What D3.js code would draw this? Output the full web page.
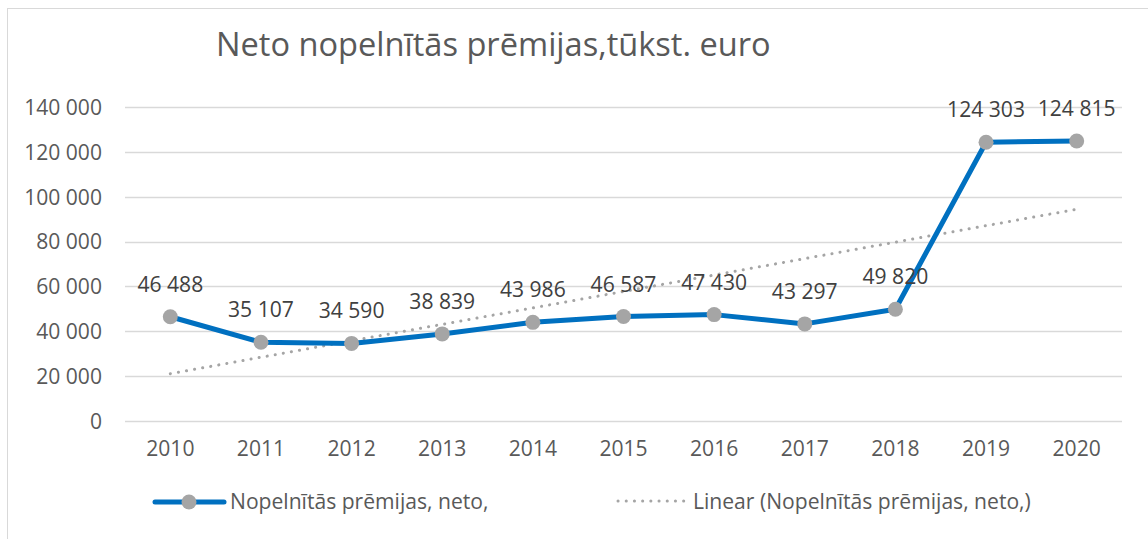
<!DOCTYPE html>
<html>
<head>
<meta charset="utf-8">
<script src="https://cdn.jsdelivr.net/npm/d3@7"></script>
<style>
  html, body { margin: 0; padding: 0; background: #fff; }
  svg { display: block; font-family: "Open Sans", "Liberation Sans", sans-serif; }
</style>
</head>
<body>
<svg id="chart" width="1148" height="539"></svg>
<script>
const years = ["2010","2011","2012","2013","2014","2015","2016","2017","2018","2019","2020"];
const values = [46488, 35107, 34590, 38839, 43986, 46587, 47430, 43297, 49820, 124303, 124815];
const yTicks = [0, 20000, 40000, 60000, 80000, 100000, 120000, 140000];
const titleText = "Neto nopelnītās prēmijas,tūkst. euro";
const seriesName = "Nopelnītās prēmijas, neto,";
const trendName = "Linear (Nopelnītās prēmijas, neto,)";

const svg = d3.select("#chart");
const W = 1148, H = 539;
const plot = { left: 125, right: 1122, top: 107, bottom: 421 };
const FS = 21.1;

// chart area border
svg.append("rect").attr("x", 7.5).attr("y", 8.5).attr("width", W + 10).attr("height", H + 10)
  .attr("fill", "#fff").attr("stroke", "#d9d9d9").attr("stroke-width", 1);

const x = d3.scaleBand().domain(years).range([plot.left, plot.right]).padding(0);
const y = d3.scaleLinear().domain([0, 140000]).range([plot.bottom, plot.top]);
const fmt = v => d3.format(",")(v).replace(/,/g, " ");
const cx = d => x(d) + x.bandwidth() / 2;

// gridlines
svg.append("g").selectAll("line").data(yTicks).join("line")
  .attr("x1", plot.left).attr("x2", plot.right)
  .attr("y1", d => Math.round(y(d)) + 0.5).attr("y2", d => Math.round(y(d)) + 0.5)
  .attr("stroke", "#d9d9d9").attr("stroke-width", 1.5);

// y axis labels
const yAxis = d3.axisLeft(y).tickValues(yTicks).tickFormat(fmt).tickSize(0).tickPadding(0);
const gy = svg.append("g").attr("transform", `translate(102,0)`).call(yAxis);
gy.select(".domain").remove();
gy.selectAll("text").attr("font-size", FS).attr("fill", "#595959")
  .attr("font-family", '"Open Sans", sans-serif').attr("dy", "0.35em");

// x axis labels
const xAxis = d3.axisBottom(x).tickSize(0).tickPadding(0);
const gx = svg.append("g").attr("transform", `translate(0,441)`).call(xAxis);
gx.select(".domain").remove();
gx.selectAll("text").attr("font-size", FS).attr("fill", "#595959")
  .attr("font-family", '"Open Sans", sans-serif').attr("dy", "0.71em");

// linear trendline (least squares of the series, as the chart's trendline)
const n = values.length;
const xs = d3.range(1, n + 1);
const mx = d3.mean(xs), my = d3.mean(values);
const slope = d3.sum(xs, (xi, i) => (xi - mx) * (values[i] - my)) / d3.sum(xs, xi => (xi - mx) ** 2);
const icpt = my - slope * mx;
const trend = [
  { yr: years[0], v: icpt + slope * 1 },
  { yr: years[n - 1], v: icpt + slope * n }
];
svg.append("path")
  .attr("d", d3.line().x(d => cx(d.yr)).y(d => y(d.v))(trend))
  .attr("fill", "none").attr("stroke", "#a5a5a5").attr("stroke-width", 3)
  .attr("stroke-linecap", "round").attr("stroke-dasharray", "0.1 8.1");

// series line
const data = years.map((yr, i) => ({ yr, v: values[i] }));
svg.append("path")
  .attr("d", d3.line().x(d => cx(d.yr)).y(d => y(d.v))(data))
  .attr("fill", "none").attr("stroke", "#0070c0").attr("stroke-width", 5)
  .attr("stroke-linejoin", "round").attr("stroke-linecap", "round");

// markers
svg.append("g").selectAll("circle").data(data).join("circle")
  .attr("cx", d => cx(d.yr)).attr("cy", d => y(d.v)).attr("r", 7.5)
  .attr("fill", "#a5a5a5");

// data labels
svg.append("g").selectAll("text").data(data).join("text")
  .attr("x", d => cx(d.yr)).attr("y", d => y(d.v) - 25)
  .attr("text-anchor", "middle").attr("font-size", FS).attr("fill", "#404040")
  .text(d => fmt(d.v));

// title
svg.append("text").attr("x", 216).attr("y", 56)
  .attr("font-size", 32.6).attr("fill", "#595959").text(titleText);

// legend
const lg = svg.append("g");
lg.append("line").attr("x1", 155).attr("x2", 224).attr("y1", 502).attr("y2", 502)
  .attr("stroke", "#0070c0").attr("stroke-width", 5).attr("stroke-linecap", "round");
lg.append("circle").attr("cx", 189).attr("cy", 502).attr("r", 7.5).attr("fill", "#a5a5a5");
lg.append("text").attr("x", 230).attr("y", 509).attr("font-size", FS).attr("fill", "#595959").text(seriesName);
lg.append("line").attr("x1", 618).attr("x2", 684).attr("y1", 501).attr("y2", 501)
  .attr("stroke", "#a5a5a5").attr("stroke-width", 3).attr("stroke-linecap", "round")
  .attr("stroke-dasharray", "0.1 8.1");
lg.append("text").attr("x", 693).attr("y", 509).attr("font-size", FS).attr("fill", "#595959").text(trendName);
</script>
</body>
</html>
